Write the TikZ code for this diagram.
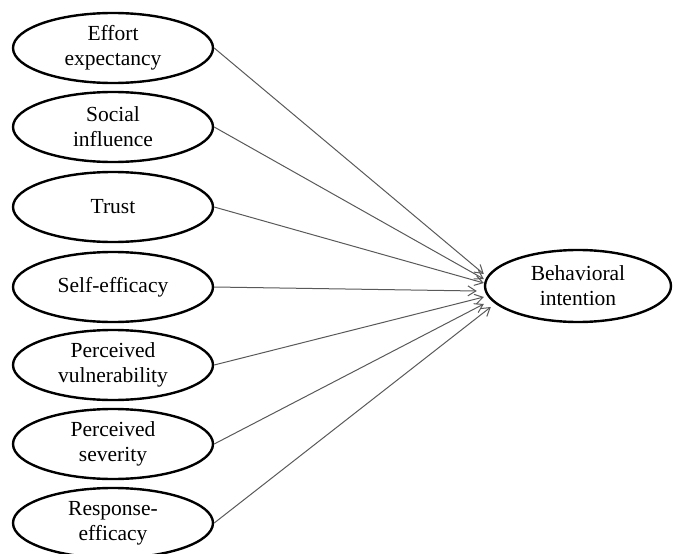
\documentclass[tikz,border=0pt]{standalone}
\usepackage{fontspec}
\setmainfont{Liberation Serif}
\usetikzlibrary{shapes.geometric,arrows.meta}

\begin{document}
\begin{tikzpicture}[x=1pt,y=-1pt,
    construct/.style={draw, ellipse, line width=2.4pt, minimum width=200pt,
      minimum height=70pt, inner sep=0pt, align=center,
      font=\fontsize{21.5}{25}\selectfont},
    link/.style={-{Straight Barb[length=8pt,width=10pt]}, draw=black!65, line width=1pt}]
    \useasboundingbox (0,0) rectangle (675,554);

    % Predictors
    \node[construct] (ee) at (113,48) {Effort\\expectancy};
    \node[construct] (si) at (113,127) {Social\\influence};
    \node[construct] (tr) at (113,207) {Trust};
    \node[construct] (se) at (113,287) {Self-efficacy};
    \node[construct] (pv) at (113,365) {Perceived\\vulnerability};
    \node[construct] (ps) at (113,444) {Perceived\\severity};
    \node[construct] (re) at (113,523) {Response-\\efficacy};

    % Outcome
    \node[construct, minimum width=186pt, minimum height=72pt] (bi) at (578,286) {Behavioral\\intention};

    % Paths
    \foreach \src/\dx/\dy in {ee/0/12, si/0/7, tr/0/3, se/-7/-5, pv/0/-11, ps/0/-18, re/7/-21}
        \draw[link] (\src.east) -- ([xshift=\dx pt, yshift=\dy pt]bi.west);
\end{tikzpicture}
\end{document}
